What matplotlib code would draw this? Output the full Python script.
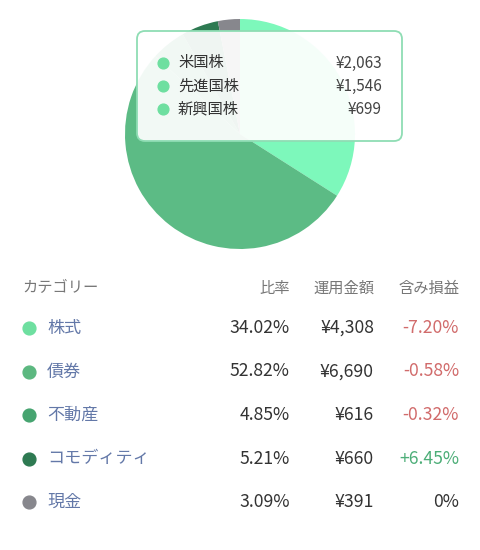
import matplotlib
matplotlib.use('Agg')
import matplotlib.pyplot as plt
from matplotlib.patches import FancyBboxPatch

plt.rcParams['font.family'] = ['Noto Sans CJK JP', 'DejaVu Sans']

# データ
categories = ['株式', '債券', '不動産', 'コモディティ', '現金']
ratios = ['34.02%', '52.82%', '4.85%', '5.21%', '3.09%']
amounts = [4308, 6690, 616, 660, 391]
pnl = [-7.20, -0.58, -0.32, 6.45, 0.0]
colors = ['#7DF8BB', '#5CBB85', '#46A470', '#2E7A52', '#87878D']
dot_colors = ['#6EDFA0', '#5CB880', '#46A470', '#2E7A52', '#87878D']

tip_names = ['米国株', '先進国株', '新興国株']
tip_values = [2063, 1546, 699]
headers = ['カテゴリー', '比率', '運用金額', '含み損益']

W, H = 480, 550
fig = plt.figure(figsize=(W / 100, H / 100), dpi=100)
fig.patch.set_facecolor('white')

# 円グラフ
cx, cy, r = 240, 134, 115
pax = fig.add_axes([(cx - r) / W, 1 - (cy + r) / H, 2 * r / W, 2 * r / H])
pax.pie(amounts, colors=colors, startangle=90, counterclock=False,
        wedgeprops=dict(linewidth=0))
pax.set_xlim(-1, 1)
pax.set_ylim(-1, 1)
pax.axis('off')

# ピクセル座標のオーバーレイ
ax = fig.add_axes([0, 0, 1, 1], zorder=5)
ax.set_xlim(0, W)
ax.set_ylim(H, 0)
ax.axis('off')
ax.patch.set_alpha(0)

# ツールチップ
box = FancyBboxPatch((137, 31), 265, 110, boxstyle='round,pad=0,rounding_size=8',
                     facecolor='white', alpha=0.93, edgecolor='none')
ax.add_patch(box)
ax.add_patch(FancyBboxPatch((137, 31), 265, 110, boxstyle='round,pad=0,rounding_size=8',
                            facecolor='none', edgecolor='#8FDDB4', linewidth=1.3))
for i, (name, val) in enumerate(zip(tip_names, tip_values)):
    y = 63 + i * 23
    ax.scatter(163, y, s=60, color='#6EDFA0', zorder=6)
    ax.text(178, y, name, fontsize=11, color='#333333', va='center', ha='left')
    ax.text(382, y, f'¥{val:,}', fontsize=11, color='#444444', va='center', ha='right')

# テーブル
col_x = [22, 290, 374, 459]
ax.text(col_x[0], 288, headers[0], fontsize=11, color='#777777', va='center', ha='left')
for x, h in zip(col_x[1:], headers[1:]):
    ax.text(x, 288, h, fontsize=11, color='#777777', va='center', ha='right')

for i, cat in enumerate(categories):
    y = 328 + i * 43.5
    ax.scatter(29, y, s=85, color=dot_colors[i], zorder=6)
    ax.text(47, y, cat, fontsize=12.3, color='#6378A8', va='center', ha='left')
    ax.text(col_x[1], y, ratios[i], fontsize=12.7, color='#333333', va='center', ha='right')
    ax.text(col_x[2], y, f'¥{amounts[i]:,}', fontsize=12.7, color='#333333', va='center', ha='right')
    p = pnl[i]
    if p < 0:
        txt, c = f'{p:.2f}%', '#D16B6B'
    elif p > 0:
        txt, c = f'+{p:.2f}%', '#4DAE78'
    else:
        txt, c = '0%', '#333333'
    ax.text(col_x[3], y, txt, fontsize=12.7, color=c, va='center', ha='right')

fig.savefig('out.png', dpi=100, facecolor='white')
